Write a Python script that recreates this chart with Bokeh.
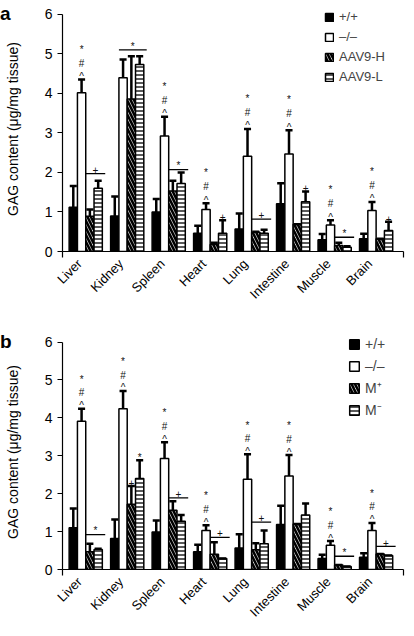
import numpy as np
from bokeh.plotting import figure
from bokeh.models import Range1d, FixedTicker, Legend, LegendItem, ColumnDataSource, Div
from bokeh.layouts import column, row
from bokeh.embed import file_html
from bokeh.resources import INLINE
from bokeh.core.properties import value

FONT = "Liberation Sans"

cats = ["Liver", "Kidney", "Spleen", "Heart", "Lung", "Intestine", "Muscle", "Brain"]

# Panel a
a_names = ["+/+", "\u2013/\u2013", "AAV9-H", "AAV9-L"]
a_wt = [1.12, 0.90, 1.00, 0.46, 0.57, 1.21, 0.30, 0.32]
a_wt_err = [1.66, 1.39, 1.33, 0.65, 0.96, 1.73, 0.44, 0.45]
a_ko = [4.02, 4.40, 2.92, 1.06, 2.41, 2.47, 0.67, 1.04]
a_ko_err = [4.35, 4.86, 3.41, 1.22, 3.10, 3.07, 0.79, 1.25]
a_h = [0.89, 3.86, 1.53, 0.18, 0.49, 0.69, 0.15, 0.32]
a_h_err = [1.06, 4.94, 1.79, 0.22, 0.50, 0.69, 0.22, 0.32]
a_l = [1.60, 4.73, 1.72, 0.46, 0.46, 1.26, 0.11, 0.53]
a_l_err = [1.79, 4.94, 2.00, 0.79, 0.55, 1.52, 0.13, 0.75]
a_ko_sig = [True, False, True, True, True, True, True, True]
# (category index, symbol, first bar, last bar, level, with line)
a_marks = [(0, "+", 2, 3, 1.97, True), (1, "*", 1, 3, 5.10, True),
           (2, "*", 2, 3, 2.07, True), (3, "+", 3, 3, 0.79, False),
           (4, "+", 2, 3, 0.82, True), (5, "+", 3, 3, 1.52, False),
           (6, "*", 2, 3, 0.36, True), (7, "+", 3, 3, 0.75, False)]

# Panel b
b_names = ["+/+", "\u2013/\u2013", "M\u207a", "M\u207b"]
b_wt = [1.10, 0.82, 0.99, 0.47, 0.57, 1.19, 0.29, 0.32]
b_wt_err = [1.61, 1.32, 1.29, 0.65, 0.93, 1.68, 0.39, 0.43]
b_ko = [3.91, 4.24, 2.93, 1.03, 2.38, 2.47, 0.64, 1.03]
b_ko_err = [4.24, 4.71, 3.36, 1.17, 3.04, 3.02, 0.75, 1.23]
b_p = [0.47, 1.72, 1.56, 0.40, 0.52, 1.20, 0.12, 0.41]
b_p_err = [0.68, 2.20, 1.80, 0.72, 0.69, 1.20, 0.12, 0.41]
b_m = [0.53, 2.40, 1.27, 0.29, 0.68, 1.44, 0.08, 0.37]
b_m_err = [0.55, 2.88, 1.44, 0.29, 1.03, 1.74, 0.08, 0.37]
b_ko_sig = [True, True, True, True, True, True, True, True]
b_marks = [(0, "*", 2, 3, 0.92, True), (1, "+", 2, 2, 2.20, False),
           (1, "*", 3, 3, 2.88, False), (2, "+", 2, 3, 1.89, True),
           (3, "+", 2, 3, 0.85, True), (4, "+", 2, 3, 1.25, True),
           (6, "*", 2, 3, 0.35, True), (7, "+", 2, 3, 0.61, True)]

y_ticks = [0, 1, 2, 3, 4, 5, 6]

centers = [i + 0.5 for i in range(len(cats))]
label_pos = [round(c - 0.15, 2) for c in centers]
offsets = [-0.3, -0.1, 0.1, 0.3]
BW = 0.2
X0, X1 = -0.06, 8.16
YMAX = 6.2   # headroom above the axis top so the legend is not clipped
LETTER_W = 1


def make_panel(series, errs, names, ko_sig, marks, height, btop, bbottom,
               legend_loc, gsize, lfont, lheight, lspacing):
    p = figure(width=405 - LETTER_W, height=height, x_range=Range1d(X0, X1),
               y_range=Range1d(0, YMAX),
               output_backend="svg", toolbar_location=None,
               min_border_left=53 - LETTER_W, min_border_right=2,
               min_border_top=btop, min_border_bottom=bbottom)
    p.outline_line_color = None
    p.xgrid.visible = False
    p.ygrid.visible = False
    p.background_fill_color = "white"

    styles = [
        dict(fill_color="black"),
        dict(fill_color="white"),
        dict(fill_color="white", hatch_pattern="\\", hatch_color="black",
             hatch_weight=2.6, hatch_scale=7),
        dict(fill_color="white", hatch_pattern="-", hatch_color="black",
             hatch_weight=1.3, hatch_scale=4),
    ]
    rends = []
    srcs = []
    for k in range(4):
        xs = [c + offsets[k] for c in centers]
        src = ColumnDataSource(dict(x=xs, top=series[k], err=errs[k],
                                    x0=[x - 0.085 for x in xs], x1=[x + 0.085 for x in xs]))
        srcs.append(src)
        r = p.vbar(x="x", top="top", bottom=0, width=BW, source=src,
                   line_color="black", line_width=1.5, **styles[k])
        rends.append(r)
    for src in srcs:
        p.segment(x0="x", y0="top", x1="x", y1="err", source=src,
                  line_color="black", line_width=2.5)
        p.segment(x0="x0", y0="err", x1="x1", y1="err", source=src,
                  line_color="black", line_width=2.5)

    # significance stacks over -/- bars
    sx, sy, st = [], [], []
    for i, flag in enumerate(ko_sig):
        if flag:
            xc = centers[i] + offsets[1]
            base = errs[1][i]
            for sym, dy in (("^", 0.08), ("#", 0.42), ("*", 0.77)):
                sx.append(xc)
                sy.append(base + dy)
                st.append(sym)
    # bracket marks
    lx0, lx1, ly = [], [], []
    for (i, sym, b0, b1, lvl, line) in marks:
        if line:
            xl = centers[i] + offsets[b0] - BW / 2
            xr = centers[i] + offsets[b1] + BW / 2 + 0.07
            lx0.append(xl)
            lx1.append(xr)
            ly.append(lvl)
            sx.append((xl + xr) / 2)
            sy.append(lvl + 0.1)
        else:
            sx.append(centers[i] + offsets[b0])
            sy.append(lvl + 0.08)
        st.append(sym)
    p.segment(x0=lx0, y0=ly, x1=lx1, y1=ly, line_color="black", line_width=1.3)
    p.text(x=sx, y=sy, text=st, text_align="center", text_baseline="alphabetic",
           text_font=value(FONT), text_font_size=value("10px"), text_color="#111111")

    # axes
    xa = p.xaxis[0]
    xa.ticker = FixedTicker(ticks=label_pos, minor_ticks=[X0, X1])
    xa.major_label_overrides = {c: n for c, n in zip(label_pos, cats)}
    xa.major_label_orientation = np.pi / 4
    xa.major_tick_line_color = None
    xa.minor_tick_in = 0
    xa.minor_tick_out = 6
    xa.minor_tick_line_color = "black"
    xa.minor_tick_line_width = 1.2
    xa.axis_line_color = "black"
    xa.axis_line_width = 1.2
    xa.major_label_text_font = FONT
    xa.major_label_text_font_size = "13px"
    xa.major_label_text_color = "black"
    xa.major_label_standoff = 4

    ya = p.yaxis[0]
    ya.ticker = FixedTicker(ticks=y_ticks)
    ya.bounds = (0, 6)
    ya.minor_tick_line_color = None
    ya.major_tick_in = 0
    ya.major_tick_out = 5
    ya.major_tick_line_color = "black"
    ya.major_tick_line_width = 1.2
    ya.axis_line_color = "black"
    ya.axis_line_width = 1.2
    ya.major_label_text_font = FONT
    ya.major_label_text_font_size = "14px"
    ya.major_label_text_color = "black"
    ya.major_label_standoff = 5
    ya.axis_label = "GAG content (\u03bcg/mg tissue)"
    ya.axis_label_text_font = FONT
    ya.axis_label_text_font_size = "14px"
    ya.axis_label_text_font_style = "normal"
    ya.axis_label_text_color = "black"
    ya.axis_label_standoff = 21

    legend = Legend(items=[LegendItem(label=n, renderers=[r]) for n, r in zip(names, rends)],
                    location=legend_loc, glyph_width=gsize, glyph_height=gsize,
                    label_height=lheight, label_width=20, spacing=lspacing, padding=0, margin=0,
                    border_line_color=None, background_fill_alpha=0,
                    label_text_font=FONT, label_text_font_size=lfont,
                    label_standoff=5)
    p.add_layout(legend)
    return p


def letter_div(letter, pad):
    return Div(text=letter, width=LETTER_W, height=24, margin=0,
               styles={"font-family": FONT, "font-size": "19px", "font-weight": "bold",
                       "line-height": "19px", "padding-top": pad, "color": "black",
                       "overflow": "visible", "z-index": "5", "white-space": "nowrap"})


pa = make_panel([a_wt, a_ko, a_h, a_l], [a_wt_err, a_ko_err, a_h_err, a_l_err],
                a_names, a_ko_sig, a_marks, 332, 6, 81, (262, 167), 10, "13px", 15, 5)
pb = make_panel([b_wt, b_ko, b_p, b_m], [b_wt_err, b_ko_err, b_p_err, b_m_err],
                b_names, b_ko_sig, b_marks, 295, 2, 51, (286, 150), 12, "14px", 19, 3)

layout = column(row(letter_div("a", "4px"), pa, spacing=0),
                row(letter_div("b", "0px"), pb, spacing=0), spacing=0)
open("out.html", "w").write(file_html(layout, INLINE))
